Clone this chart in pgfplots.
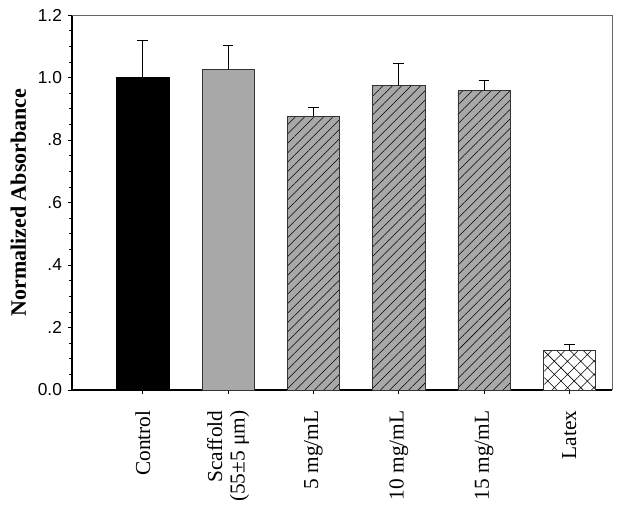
\documentclass[border=0pt]{standalone}
\usepackage{fontspec}
\setmainfont{Liberation Serif}
\newfontfamily\arialfont{Liberation Sans}
\usepackage{pgfplots}
\pgfplotsset{compat=1.18}
\usetikzlibrary{patterns.meta}
\definecolor{bargray}{HTML}{A8A8A8}

\begin{document}
\begin{tikzpicture}
\begin{axis}[
  name=ax,
  scale only axis,
  width=405pt, height=281.25pt,
  xmin=-0.83, xmax=5.5,
  ymin=0, ymax=1.2,
  axis lines=left,
  axis line style={-, black, line width=0.8pt},
  tick align=outside,
  xtick={0,1,2,3,4,5},
  xticklabels={Control, {Scaffold\\(55±5 μm)}, 5 mg/mL, 10 mg/mL, 15 mg/mL, Latex},
  xticklabel style={rotate=90, anchor=east, align=right, font=\fontsize{16}{17}\selectfont, xshift=-9pt},
  ytick={0,0.2,0.4,0.6,0.8,1.0,1.2},
  yticklabels={0.0,.2,.4,.6,.8,1.0,1.2},
  yticklabel style={font=\arialfont\fontsize{13}{14}\selectfont, xshift=-1pt},
  minor y tick num=3,
  major tick length=3pt,
  minor tick length=2pt,
  tick style={black, line width=0.5pt},
  ylabel={\textbf{Normalized Absorbance}},
  ylabel style={font=\fontsize{16.5}{18}\selectfont, yshift=2pt},
  clip=false,
]
\addplot[ybar, bar width=0.613, bar shift=0pt, fill=black, draw=black,
  error bars/.cd, y dir=plus, y explicit,
  error bar style={black, line width=0.5pt},
  error mark options={rotate=90, mark size=4pt, line width=0.5pt}]
  coordinates {(0,1.000) +- (0,0.120)};
\addplot[ybar, bar width=0.613, bar shift=0pt, fill=bargray, draw=black!80, line width=0.5pt,
  error bars/.cd, y dir=plus, y explicit,
  error bar style={black, line width=0.5pt},
  error mark options={rotate=90, mark size=4pt, line width=0.5pt}]
  coordinates {(1,1.026) +- (0,0.077)};
\addplot[ybar, bar width=0.613, bar shift=0pt, fill=bargray, draw=black!80, line width=0.5pt,
  postaction={pattern={Lines[angle=45, distance=5pt, line width=0.4pt]}},
  error bars/.cd, y dir=plus, y explicit,
  error bar style={black, line width=0.5pt},
  error mark options={rotate=90, mark size=4pt, line width=0.5pt}]
  coordinates {(2,0.876) +- (0,0.028) (3,0.975) +- (0,0.070) (4,0.958) +- (0,0.033)};
\addplot[ybar, bar width=0.613, bar shift=0pt, fill=white, draw=black!80, line width=0.5pt,
  postaction={pattern={Hatch[angle=45, distance=7pt, line width=0.4pt]}},
  error bars/.cd, y dir=plus, y explicit,
  error bar style={black, line width=0.5pt},
  error mark options={rotate=90, mark size=4pt, line width=0.5pt}]
  coordinates {(5,0.126) +- (0,0.020)};
\draw[gray!80!black, line width=0.5pt] (rel axis cs:0,1) -- (rel axis cs:1,1) -- (rel axis cs:1,0);
\end{axis}
\path ([xshift=-54pt,yshift=-86.25pt]ax.south west) rectangle ([xshift=9pt,yshift=11.25pt]ax.north east);
\end{tikzpicture}
\end{document}
